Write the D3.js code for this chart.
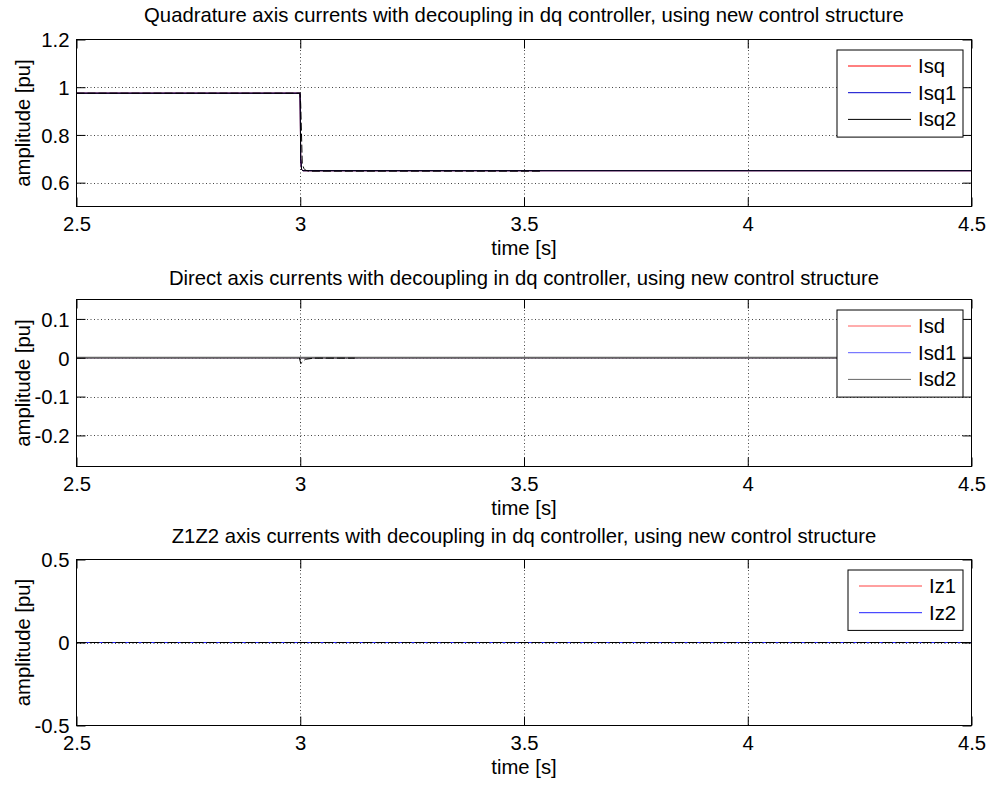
<!DOCTYPE html>
<html>
<head>
<meta charset="utf-8">
<script src="https://cdn.jsdelivr.net/npm/d3@7.9.0/dist/d3.min.js"></script>
<style>
body { margin: 0; background: #fff; }
svg text { font-family: "Liberation Sans", Arial, sans-serif; fill: #000; }
</style>
</head>
<body>
<svg id="fig" width="991" height="785"></svg>
<script>
// shared x axis
const timeDomain = [2.5, 4.5];
const timeTicks = [2.5, 3, 3.5, 4, 4.5];

// quadrature axis currents
const tIsq = [2.5, 2.9995, 3.0, 3.001, 3.003, 3.006, 4.5];
const isq = [0.975, 0.975, 0.9, 0.70, 0.655, 0.65, 0.65];
const isq1 = isq;
const tIsq2 = [2.5, 2.9995, 3.001, 3.0045, 3.008, 3.012, 3.02, 3.54];
const isq2 = [0.975, 0.975, 0.93, 0.68, 0.66, 0.652, 0.648, 0.648];
const qTicks = [0.6, 0.8, 1, 1.2];

// direct axis currents
const tIsd = [2.5, 4.5];
const isd = [0, 0];
const isd1 = [0, 0];
const isd2 = [0, 0];
const tIsdDip = [2.998, 3.0012, 3.011, 3.03, 3.122];
const isdDip = [0, -0.015, -0.004, -0.001, -0.001];
const dTicks = [-0.2, -0.1, 0, 0.1];

// z1z2 axis currents
const tIz = [2.5, 4.5];
const iz1 = [0, 0];
const iz2 = [0, 0];
const zTicks = [-0.5, 0, 0.5];

const panels = [
  {
    title: 'Quadrature axis currents with decoupling in dq controller, using new control structure',
    top: 39.5, bottom: 206.5, titleGap: 17.5, yDomain: [0.5, 1.2], yTicks: qTicks,
    series: [
      {name: 'Isq', t: tIsq, v: isq, color: '#ff0000'},
      {name: 'Isq1', t: tIsq, v: isq1, color: '#0000cc'},
      {name: 'Isq2', t: tIsq, v: isq1, color: '#000000'},
      {t: tIsq2, v: isq2, color: '#000000', dash: '8,3'}
    ],
    legendW: 126
  },
  {
    title: 'Direct axis currents with decoupling in dq controller, using new control structure',
    top: 299.5, bottom: 466.5, titleGap: 15, yDomain: [-0.28, 0.15], yTicks: dTicks,
    series: [
      {name: 'Isd', t: tIsd, v: isd, color: '#ff5a5a'},
      {name: 'Isd1', t: tIsd, v: isd1, color: '#5a5aff'},
      {name: 'Isd2', t: tIsd, v: isd2, color: '#666666', width: 2},
      {t: tIsdDip, v: isdDip, color: '#000000', dash: '8,3'}
    ],
    legendW: 126
  },
  {
    title: 'Z1Z2 axis currents with decoupling in dq controller, using new control structure',
    top: 559.5, bottom: 725.5, titleGap: 16.5, yDomain: [-0.5, 0.5], yTicks: zTicks,
    series: [
      {name: 'Iz1', t: tIz, v: iz1, color: '#ff4040'},
      {name: 'Iz2', t: tIz, v: iz2, color: '#2020ff'},
      {t: tIz, v: iz1, color: '#000000', dash: '10,3'}
    ],
    legendW: 115
  }
];

const left = 76.5, right = 971.5;
const fs = 20.3;
const svg = d3.select('#fig');

const x = d3.scaleLinear().domain(timeDomain).range([left, right]);

panels.forEach((p) => {
  const y = d3.scaleLinear().domain(p.yDomain).range([p.bottom, p.top]);
  const g = svg.append('g');
  const h = p.bottom - p.top;

  // grid
  g.append('g')
    .selectAll('line')
    .data(timeTicks.filter((d) => d > timeDomain[0] && d < timeDomain[1]))
    .join('line')
    .attr('x1', (d) => Math.round(x(d)) + 0.5).attr('x2', (d) => Math.round(x(d)) + 0.5)
    .attr('y1', p.top).attr('y2', p.bottom)
    .attr('stroke', '#444').attr('stroke-dasharray', '1,2.5');
  g.append('g')
    .selectAll('line')
    .data(p.yTicks.filter((d) => d > p.yDomain[0] && d < p.yDomain[1]))
    .join('line')
    .attr('x1', left).attr('x2', right)
    .attr('y1', (d) => Math.round(y(d)) + 0.5).attr('y2', (d) => Math.round(y(d)) + 0.5)
    .attr('stroke', '#444').attr('stroke-dasharray', '1,2.5');

  // data lines
  const line = d3.line().x((d) => x(d[0])).y((d) => y(d[1]));
  p.series.forEach((s) => {
    g.append('path')
      .datum(s.t.map((t, i) => [t, s.v[i]]))
      .attr('d', line)
      .attr('fill', 'none')
      .attr('stroke', s.color)
      .attr('stroke-width', s.width || 1)
      .attr('stroke-dasharray', s.dash || null);
  });

  // axes, ticks pointing inward on all four sides
  const fmt = (d) => String(d);
  const xb = g.append('g').attr('transform', `translate(0,${p.bottom})`)
    .call(d3.axisBottom(x).tickValues(timeTicks).tickFormat(fmt).tickSizeInner(-9).tickSizeOuter(0).tickPadding(6));
  const xt = g.append('g').attr('transform', `translate(0,${p.top})`)
    .call(d3.axisTop(x).tickValues(timeTicks).tickFormat('').tickSizeInner(-9).tickSizeOuter(0));
  const yl = g.append('g').attr('transform', `translate(${left},0)`)
    .call(d3.axisLeft(y).tickValues(p.yTicks).tickFormat(fmt).tickSizeInner(-9).tickSizeOuter(0).tickPadding(7));
  const yr = g.append('g').attr('transform', `translate(${right},0)`)
    .call(d3.axisRight(y).tickValues(p.yTicks).tickFormat('').tickSizeInner(-9).tickSizeOuter(0));
  [xb, xt, yl, yr].forEach((a) => {
    a.select('.domain').remove();
    a.selectAll('line').attr('stroke', '#000');
    a.selectAll('text').attr('font-size', fs).attr('font-family', null);
  });
  xb.selectAll('text').attr('dy', null).attr('y', 24.5);
  yl.selectAll('text').attr('dy', '0.36em');

  g.append('rect')
    .attr('x', left).attr('y', p.top).attr('width', right - left).attr('height', h)
    .attr('fill', 'none').attr('stroke', '#000');

  // labels
  g.append('text').attr('x', (left + right) / 2).attr('y', p.top - p.titleGap)
    .attr('text-anchor', 'middle').attr('font-size', fs).text(p.title);
  g.append('text').attr('x', (left + right) / 2).attr('y', p.bottom + 48.5)
    .attr('text-anchor', 'middle').attr('font-size', fs).text('time [s]');
  g.append('text')
    .attr('transform', `translate(30,${p.top + h / 2}) rotate(-90)`)
    .attr('text-anchor', 'middle').attr('font-size', fs).text('amplitude [pu]');

  // legend
  const items = p.series.filter((s) => s.name);
  const lx = 963 - p.legendW, ly = p.top + 10.5;
  const lg = g.append('g').attr('transform', `translate(${lx},${ly})`);
  lg.append('rect').attr('width', p.legendW).attr('height', items.length * 26.7 + 7)
    .attr('fill', '#fff').attr('stroke', '#000');
  items.forEach((s, i) => {
    const cy = 16 + i * 26.7;
    lg.append('line').attr('x1', 11).attr('x2', 74).attr('y1', cy).attr('y2', cy)
      .attr('stroke', s.color);
    lg.append('text').attr('x', 81).attr('y', cy + 7).attr('font-size', fs).text(s.name);
  });
});
</script>
</body>
</html>
